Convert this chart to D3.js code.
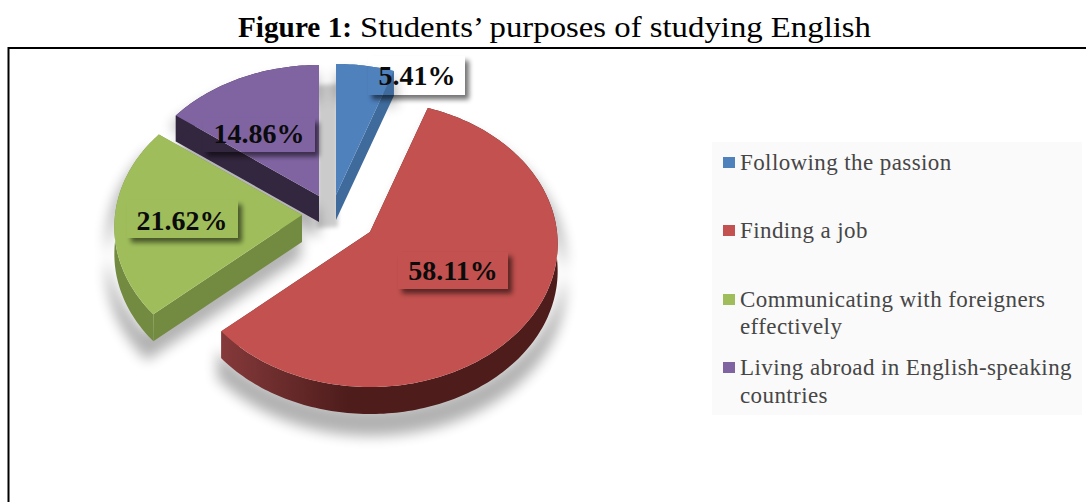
<!DOCTYPE html>
<html>
<head>
<meta charset="utf-8">
<script src="https://cdn.jsdelivr.net/npm/d3@7"></script>
<style>
html,body{margin:0;padding:0;background:#fff;overflow:hidden}
svg{display:block}
text{font-family:"Liberation Serif",serif}
</style>
</head>
<body>
<svg id="chart" width="1086" height="502"></svg>
<script>
// Survey results
const categories = ["Following the passion","Finding a job","Communicating with foreigners effectively","Living abroad in English-speaking countries"];
const shares = [5.41,58.11,21.62,14.86];
const valueLabels = ["5.41%","58.11%","21.62%","14.86%"];

// Appearance and layout, listed per slice
const topColours = ["#4f81bd","#c2514f","#9fbe5b","#8064a2"];
const wallColours = ["#3f6a9c","url(#redWall)","#728b40","#33263f"];
const apexX = [336,370,302,319];
const apexY = [195,232,215,196];
const wallDepth = [25,27,27,26];
const boxX = [368,398,127,203];
const boxY = [56,252,200,118];
const boxW = [97,110,111,112];
const boxH = [39,37,38,34];
const textX = [417,453,182,259];
const textY = [85,280,230,143];
const legendLines = [["Following the passion"],["Finding a job"],["Communicating with foreigners","effectively"],["Living abroad in English-speaking","countries"]];
const legendBaseline = [[170],[238],[307,334],[375,403]];
const drawOrder = [3,0,2,1];

const radiusX = 187, radiusY = 142, perspective = 0.084;

const svg = d3.select("#chart");
const defs = svg.append("defs");

defs.append("filter").attr("id","softShadow")
  .attr("x","-30%").attr("y","-30%").attr("width","160%").attr("height","160%")
  .append("feGaussianBlur").attr("stdDeviation",6);
defs.append("filter").attr("id","gapBlur")
  .attr("filterUnits","userSpaceOnUse")
  .attr("x",280).attr("y",50).attr("width",100).attr("height",220)
  .append("feGaussianBlur").attr("stdDeviation",2);
defs.append("filter").attr("id","boxBlur")
  .attr("x","-30%").attr("y","-50%").attr("width","160%").attr("height","200%")
  .append("feGaussianBlur").attr("stdDeviation",2.5);

const redGrad = defs.append("linearGradient").attr("id","redWall")
  .attr("gradientUnits","userSpaceOnUse")
  .attr("x1",222).attr("x2",350).attr("y1",0).attr("y2",0);
redGrad.append("stop").attr("offset",0).attr("stop-color","#85393a");
redGrad.append("stop").attr("offset",1).attr("stop-color","#4d1c1b");

// Page title
const title = svg.append("text").attr("y",37).attr("font-size",29).attr("fill","#000");
title.append("tspan").attr("x",238).attr("font-weight","bold")
  .attr("textLength",114).attr("lengthAdjust","spacingAndGlyphs").text("Figure 1:");
title.append("tspan").attr("x",360)
  .attr("textLength",511).attr("lengthAdjust","spacingAndGlyphs").text("Students\u2019 purposes of studying English");

// Chart frame, open at the bottom of the page
const frame = d3.path();
frame.moveTo(8.5,502);
frame.lineTo(8.5,48);
frame.lineTo(1086,48);
svg.append("path").attr("d",frame.toString()).attr("fill","none").attr("stroke","#000").attr("stroke-width",2);

// Pie angles start at twelve o'clock and run clockwise
const arcs = d3.pie().sort(null).value(d=>d)(shares);

// Tilted-disc projection of a point at the rim (or the centre, for r = 0)
const rim = (a,i,r=1,dy=0) => {
  const w = 1 + perspective*Math.cos(a)*r;
  return [apexX[i] + radiusX*r*Math.sin(a)/w, apexY[i] - radiusY*r*Math.cos(a)/w + dy];
};
const line = d3.line();
const arcPoints = (d,i,dy=0) => {
  const n = Math.max(6,Math.ceil((d.endAngle-d.startAngle)/0.02));
  return d3.range(n+1).map(k=>rim(d.startAngle+(d.endAngle-d.startAngle)*k/n,i,1,dy));
};
const topFace = (d,i) => line([rim(0,i,0),...arcPoints(d,i)])+"Z";
const outerWall = (d,i) => line([...arcPoints(d,i),...arcPoints(d,i,wallDepth[i]).reverse()])+"Z";
const radialWall = (a,i) => line([rim(0,i,0),rim(a,i),rim(a,i,1,wallDepth[i]),rim(0,i,0,wallDepth[i])])+"Z";
const outline = (d,i) => line([rim(0,i,0),...arcPoints(d,i),...arcPoints(d,i,wallDepth[i]).reverse(),rim(0,i,0,wallDepth[i])])+"Z";

// Soft cast shadow under the whole pie
svg.append("g").attr("filter","url(#softShadow)")
  .attr("transform","translate(340,262) scale(1.035) translate(-340,-246)")
  .attr("opacity",0.3)
  .selectAll("path").data(arcs).join("path")
  .attr("d",(d,i)=>outline(d,i)).attr("fill","#000");

// Shaded channel between the two back slices
svg.append("path")
  .attr("d",line([rim(0,3,1,22),rim(0,0,1,22),rim(0,0,0,30),rim(0,3,0,30)])+"Z")
  .attr("fill","#000").attr("opacity",0.2).attr("filter","url(#gapBlur)")
  .attr("stroke","#000").attr("stroke-width",4);

// Slices back to front: walls first, then the top face
const pieGroup = svg.append("g");
drawOrder.forEach(i=>{
  const d = arcs[i];
  const g = pieGroup.append("g");
  g.append("path").attr("d",radialWall(d.startAngle,i)).attr("fill",wallColours[i]);
  g.append("path").attr("d",radialWall(d.endAngle,i)).attr("fill",wallColours[i]);
  g.append("path").attr("d",outerWall(d,i)).attr("fill",wallColours[i]);
  g.append("path").attr("d",topFace(d,i)).attr("fill",topColours[i]);
});

// Value labels: only the box's shadow falls outside it, the box itself is see-through
valueLabels.forEach((label,i)=>{
  const maskId = "boxMask"+i;
  const m = defs.append("mask").attr("id",maskId).attr("maskUnits","userSpaceOnUse")
    .attr("x",0).attr("y",0).attr("width",1086).attr("height",502);
  m.append("rect").attr("width",1086).attr("height",502).attr("fill","#fff");
  m.append("rect").attr("x",boxX[i]).attr("y",boxY[i]).attr("width",boxW[i]).attr("height",boxH[i]).attr("fill","#000");
  svg.append("g").attr("mask",`url(#${maskId})`)
    .append("rect").attr("x",boxX[i]+4).attr("y",boxY[i]+4.5)
    .attr("width",boxW[i]).attr("height",boxH[i])
    .attr("fill","#000").attr("opacity",0.55).attr("filter","url(#boxBlur)");
  svg.append("text").attr("x",textX[i]).attr("y",textY[i])
    .attr("text-anchor","middle").attr("font-size",28).attr("font-weight","bold")
    .attr("fill","#0b0b0b").text(label);
});

// Legend
svg.append("rect").attr("x",712).attr("y",142).attr("width",370).attr("height",273).attr("fill","#fafafa");
const legend = svg.append("g").selectAll("g").data(categories).join("g");
legend.append("rect")
  .attr("x",723).attr("y",(d,i)=>legendBaseline[i][0]-13)
  .attr("width",12).attr("height",11)
  .attr("fill",(d,i)=>topColours[i]);
legend.each(function(d,i){
  d3.select(this).selectAll("text").data(legendLines[i]).join("text")
    .attr("x",740).attr("y",(t,k)=>legendBaseline[i][k])
    .attr("font-size",23).attr("fill","#464646").attr("letter-spacing",0.4)
    .text(t=>t);
});
</script>
</body>
</html>
